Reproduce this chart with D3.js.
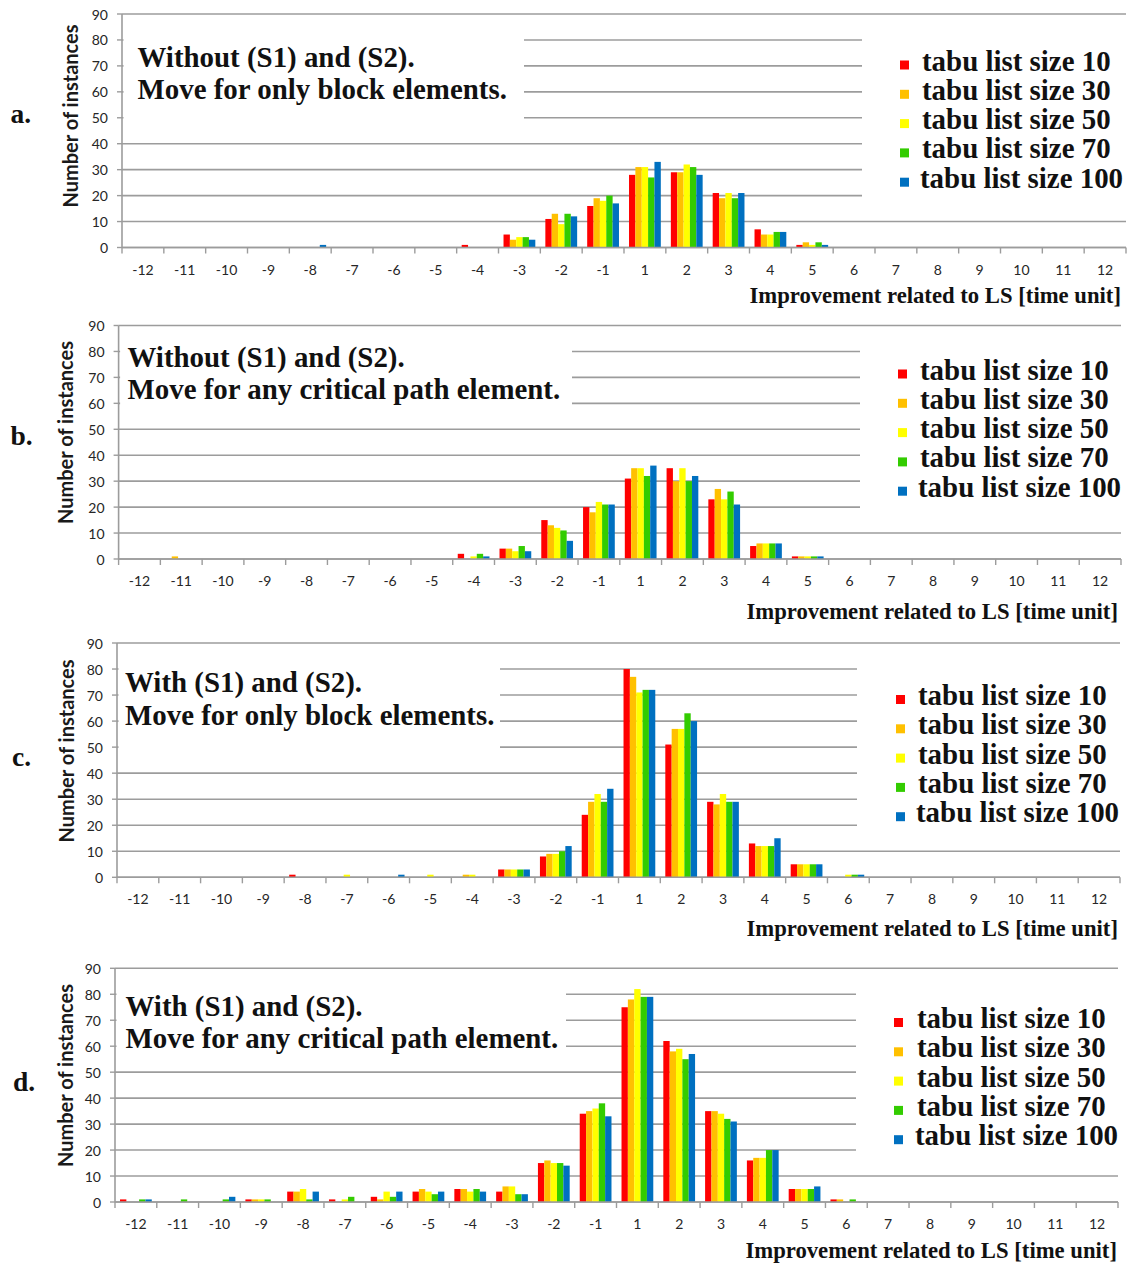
<!DOCTYPE html>
<html>
<head>
<meta charset="utf-8">
<script src="https://cdn.jsdelivr.net/npm/d3@7"></script>
<style>
  html, body { margin: 0; padding: 0; background: #fff; }
  svg { display: block; }
</style>
</head>
<body>
<svg id="fig" width="1130" height="1265"></svg>
<script>
// Improvement classes (there is no 0 class)
const categories = ["-12","-11","-10","-9","-8","-7","-6","-5","-4","-3","-2","-1",
                    "1","2","3","4","5","6","7","8","9","10","11","12"];
const seriesNames = ["tabu list size 10","tabu list size 30","tabu list size 50",
                     "tabu list size 70","tabu list size 100"];
const seriesColors = ["#ff0000","#ffc000","#ffff00","#33cc00","#0070c0"];
const yTickValues = [0,10,20,30,40,50,60,70,80,90];
const xAxisTitle = "Improvement related to LS [time unit]";
const yAxisTitle = "Number of instances";

// a. Without (S1) and (S2), move for only block elements
//               -12 -11 -10 -9 -8 -7 -6 -5 -4 -3  -2  -1   1   2   3  4  5  6  7  8  9 10 11 12
const aTabu10  = [0,  0,  0,  0, 0, 0, 0, 0, 1, 5, 11, 16, 28, 29, 21, 7, 1, 0, 0, 0, 0, 0, 0, 0];
const aTabu30  = [0,  0,  0,  0, 0, 0, 0, 0, 0, 3, 13, 19, 31, 29, 19, 5, 2, 0, 0, 0, 0, 0, 0, 0];
const aTabu50  = [0,  0,  0,  0, 0, 0, 0, 0, 0, 4,  9, 18, 31, 32, 21, 5, 1, 0, 0, 0, 0, 0, 0, 0];
const aTabu70  = [0,  0,  0,  0, 0, 0, 0, 0, 0, 4, 13, 20, 27, 31, 19, 6, 2, 0, 0, 0, 0, 0, 0, 0];
const aTabu100 = [0,  0,  0,  0, 1, 0, 0, 0, 0, 3, 12, 17, 33, 28, 21, 6, 1, 0, 0, 0, 0, 0, 0, 0];

// b. Without (S1) and (S2), move for any critical path element
const bTabu10  = [0,  0,  0,  0, 0, 0, 0, 0, 2, 4, 15, 20, 31, 35, 23, 5, 1, 0, 0, 0, 0, 0, 0, 0];
const bTabu30  = [0,  1,  0,  0, 0, 0, 0, 0, 0, 4, 13, 18, 35, 30, 27, 6, 1, 0, 0, 0, 0, 0, 0, 0];
const bTabu50  = [0,  0,  0,  0, 0, 0, 0, 0, 1, 3, 12, 22, 35, 35, 23, 6, 1, 0, 0, 0, 0, 0, 0, 0];
const bTabu70  = [0,  0,  0,  0, 0, 0, 0, 0, 2, 5, 11, 21, 32, 30, 26, 6, 1, 0, 0, 0, 0, 0, 0, 0];
const bTabu100 = [0,  0,  0,  0, 0, 0, 0, 0, 1, 3,  7, 21, 36, 32, 21, 6, 1, 0, 0, 0, 0, 0, 0, 0];

// c. With (S1) and (S2), move for only block elements
const cTabu10  = [0,  0,  0,  0, 1, 0, 0, 0, 0, 3,  8, 24, 80, 51, 29, 13, 5, 0, 0, 0, 0, 0, 0, 0];
const cTabu30  = [0,  0,  0,  0, 0, 0, 0, 0, 1, 3,  9, 29, 77, 57, 28, 12, 5, 0, 0, 0, 0, 0, 0, 0];
const cTabu50  = [0,  0,  0,  0, 0, 1, 0, 1, 1, 3,  9, 32, 71, 57, 32, 12, 5, 1, 0, 0, 0, 0, 0, 0];
const cTabu70  = [0,  0,  0,  0, 0, 0, 0, 0, 0, 3, 10, 29, 72, 63, 29, 12, 5, 1, 0, 0, 0, 0, 0, 0];
const cTabu100 = [0,  0,  0,  0, 0, 0, 1, 0, 0, 3, 12, 34, 72, 60, 29, 15, 5, 1, 0, 0, 0, 0, 0, 0];

// d. With (S1) and (S2), move for any critical path element
const dTabu10  = [1,  0,  0,  1, 4, 1, 2, 4, 5, 4, 15, 34, 75, 62, 35, 16, 5, 1, 0, 0, 0, 0, 0, 0];
const dTabu30  = [0,  0,  0,  1, 4, 0, 1, 5, 5, 6, 16, 35, 78, 58, 35, 17, 5, 1, 0, 0, 0, 0, 0, 0];
const dTabu50  = [0,  0,  0,  1, 5, 1, 4, 4, 4, 6, 15, 36, 82, 59, 34, 17, 5, 0, 0, 0, 0, 0, 0, 0];
const dTabu70  = [1,  1,  1,  1, 1, 2, 2, 3, 5, 3, 15, 38, 79, 55, 32, 20, 5, 1, 0, 0, 0, 0, 0, 0];
const dTabu100 = [1,  0,  2,  0, 4, 0, 4, 4, 4, 3, 14, 33, 79, 57, 31, 20, 6, 0, 0, 0, 0, 0, 0, 0];

// Panel placement
const panels = [
  { letter: "a.", title: ["Without (S1) and (S2).", "Move for only block elements."],
    series: [aTabu10, aTabu30, aTabu50, aTabu70, aTabu100],
    x0: 122, x1: 1126, yTop: 14, yBase: 247.5,
    titleX: 137.5, titleY: [67, 98.5], titleBoxRight: 524, titleBoxLow: 50,
    legendSq: 900, legendTx: 922, legendY0: 70.5, legendBoxLeft: 862,
    letterX: 10.5, letterY: 123, yLabelX: 78, yLabelY: 116,
    xLabelY: 269, xTitleY: 303, xTitleEnd: 1121 },
  { letter: "b.", title: ["Without (S1) and (S2).", "Move for any critical path element."],
    series: [bTabu10, bTabu30, bTabu50, bTabu70, bTabu100],
    x0: 118.6, x1: 1121, yTop: 325.5, yBase: 559,
    titleX: 127.5, titleY: [367, 398.5], titleBoxRight: 572, titleBoxLow: 60,
    legendSq: 898, legendTx: 920, legendY0: 379.5, legendBoxLeft: 860,
    letterX: 10.5, letterY: 445, yLabelX: 73, yLabelY: 432.5,
    xLabelY: 580.5, xTitleY: 619, xTitleEnd: 1118 },
  { letter: "c.", title: ["With (S1) and (S2).", "Move for only block elements."],
    series: [cTabu10, cTabu30, cTabu50, cTabu70, cTabu100],
    x0: 117, x1: 1120, yTop: 643, yBase: 877.3,
    titleX: 125, titleY: [692, 725], titleBoxRight: 500, titleBoxLow: 50,
    legendSq: 896, legendTx: 918, legendY0: 705, legendBoxLeft: 857,
    letterX: 12, letterY: 766, yLabelX: 74, yLabelY: 751,
    xLabelY: 898.5, xTitleY: 936, xTitleEnd: 1118 },
  { letter: "d.", title: ["With (S1) and (S2).", "Move for any critical path element."],
    series: [dTabu10, dTabu30, dTabu50, dTabu70, dTabu100],
    x0: 115, x1: 1118, yTop: 968.3, yBase: 1202,
    titleX: 125.5, titleY: [1016, 1048], titleBoxRight: 566, titleBoxLow: 60,
    legendSq: 894, legendTx: 917, legendY0: 1028, legendBoxLeft: 856,
    letterX: 13, letterY: 1091, yLabelX: 73, yLabelY: 1075.5,
    xLabelY: 1223, xTitleY: 1258, xTitleEnd: 1117 }
];

const svg = d3.select("#fig");
const serif = "'Liberation Serif', 'Times New Roman', serif";
const sans = "Lato, 'Noto Sans', sans-serif";
const gridColor = "#9c9c9c";

panels.forEach(p => {
  const g = svg.append("g");

  const x = d3.scaleBand().domain(categories).range([p.x0, p.x1])
    .paddingInner(0.24).paddingOuter(0.12);
  const xs = d3.scaleBand().domain(d3.range(seriesNames.length)).range([0, x.bandwidth()]);
  const y = d3.scaleLinear().domain([0, 90]).range([p.yBase, p.yTop]);

  // horizontal gridlines
  g.append("g").selectAll("line").data(yTickValues).join("line")
    .attr("x1", p.x0).attr("x2", p.x1)
    .attr("y1", d => y(d)).attr("y2", d => y(d))
    .attr("stroke", gridColor).attr("stroke-width", 1.6);

  // white text boxes sitting over the gridlines
  g.append("rect")
    .attr("x", p.x0 + 1.5).attr("y", y(80) - 3)
    .attr("width", p.titleBoxRight - p.x0 - 1.5)
    .attr("height", y(p.titleBoxLow) - y(80) + 6)
    .attr("fill", "#fff");
  g.append("rect")
    .attr("x", p.legendBoxLeft).attr("y", y(80) - 3)
    .attr("width", p.x1 + 3 - p.legendBoxLeft)
    .attr("height", y(20) - y(80) + 6)
    .attr("fill", "#fff");

  // bars
  const bars = g.append("g");
  p.series.forEach((vals, si) => {
    bars.append("g").selectAll("rect")
      .data(vals.map((v, i) => ({ c: categories[i], v })).filter(d => d.v > 0))
      .join("rect")
      .attr("x", d => x(d.c) + xs(si))
      .attr("width", xs.bandwidth())
      .attr("y", d => y(d.v))
      .attr("height", d => y(0) - y(d.v))
      .attr("fill", seriesColors[si]);
  });

  // axes lines and ticks
  g.append("line").attr("x1", p.x0).attr("x2", p.x0).attr("y1", y(90)).attr("y2", y(0))
    .attr("stroke", gridColor).attr("stroke-width", 1.6);
  g.append("line").attr("x1", p.x0).attr("x2", p.x1).attr("y1", y(0)).attr("y2", y(0))
    .attr("stroke", gridColor).attr("stroke-width", 1.6);
  g.append("g").selectAll("line").data(yTickValues).join("line")
    .attr("x1", p.x0 - 5).attr("x2", p.x0)
    .attr("y1", d => y(d)).attr("y2", d => y(d))
    .attr("stroke", gridColor).attr("stroke-width", 1.4);
  const bounds = categories.map(c => x(c) - x.step() * x.paddingOuter()).concat([p.x1]);
  g.append("g").selectAll("line").data(bounds).join("line")
    .attr("x1", d => d).attr("x2", d => d)
    .attr("y1", y(0)).attr("y2", y(0) + 6)
    .attr("stroke", gridColor).attr("stroke-width", 1.4);

  // tick labels
  g.append("g").selectAll("text").data(yTickValues).join("text")
    .attr("x", p.x0 - 14).attr("y", d => y(d))
    .attr("text-anchor", "end").attr("dominant-baseline", "central")
    .attr("font-family", sans).attr("font-size", 14).attr("fill", "#262626")
    .text(d => d);
  g.append("g").selectAll("text").data(categories).join("text")
    .attr("x", d => x(d) + x.bandwidth() / 2).attr("y", p.xLabelY)
    .attr("text-anchor", "middle").attr("dominant-baseline", "central")
    .attr("font-family", sans).attr("font-size", 14).attr("fill", "#262626")
    .text(d => d);

  // axis titles
  g.append("text")
    .attr("transform", `translate(${p.yLabelX},${p.yLabelY}) rotate(-90)`)
    .attr("text-anchor", "middle")
    .attr("font-family", sans).attr("font-weight", "bold").attr("font-size", 20)
    .attr("fill", "#1a1a1a")
    .text(yAxisTitle);
  g.append("text")
    .attr("x", p.xTitleEnd).attr("y", p.xTitleY)
    .attr("text-anchor", "end")
    .attr("font-family", serif).attr("font-weight", "bold").attr("font-size", 22.7)
    .attr("fill", "#111")
    .text(xAxisTitle);

  // panel letter
  g.append("text")
    .attr("x", p.letterX).attr("y", p.letterY)
    .attr("font-family", serif).attr("font-weight", "bold").attr("font-size", 27.5)
    .attr("fill", "#111")
    .text(p.letter);

  // panel caption
  g.append("g").selectAll("text").data(p.title).join("text")
    .attr("x", p.titleX).attr("y", (d, i) => p.titleY[i])
    .attr("font-family", serif).attr("font-weight", "bold").attr("font-size", 28.9)
    .attr("fill", "#111")
    .text(d => d);

  // legend
  const lg = g.append("g");
  seriesNames.forEach((name, i) => {
    const by = p.legendY0 + i * 29.3;
    lg.append("rect")
      .attr("x", p.legendSq).attr("y", by - 10)
      .attr("width", 9).attr("height", 9)
      .attr("fill", seriesColors[i]);
    lg.append("text")
      .attr("x", p.legendTx - (i === 4 ? 2 : 0)).attr("y", by)
      .attr("font-family", serif).attr("font-weight", "bold").attr("font-size", 28.9)
      .attr("fill", "#111")
      .text(name);
  });
});
</script>
</body>
</html>
